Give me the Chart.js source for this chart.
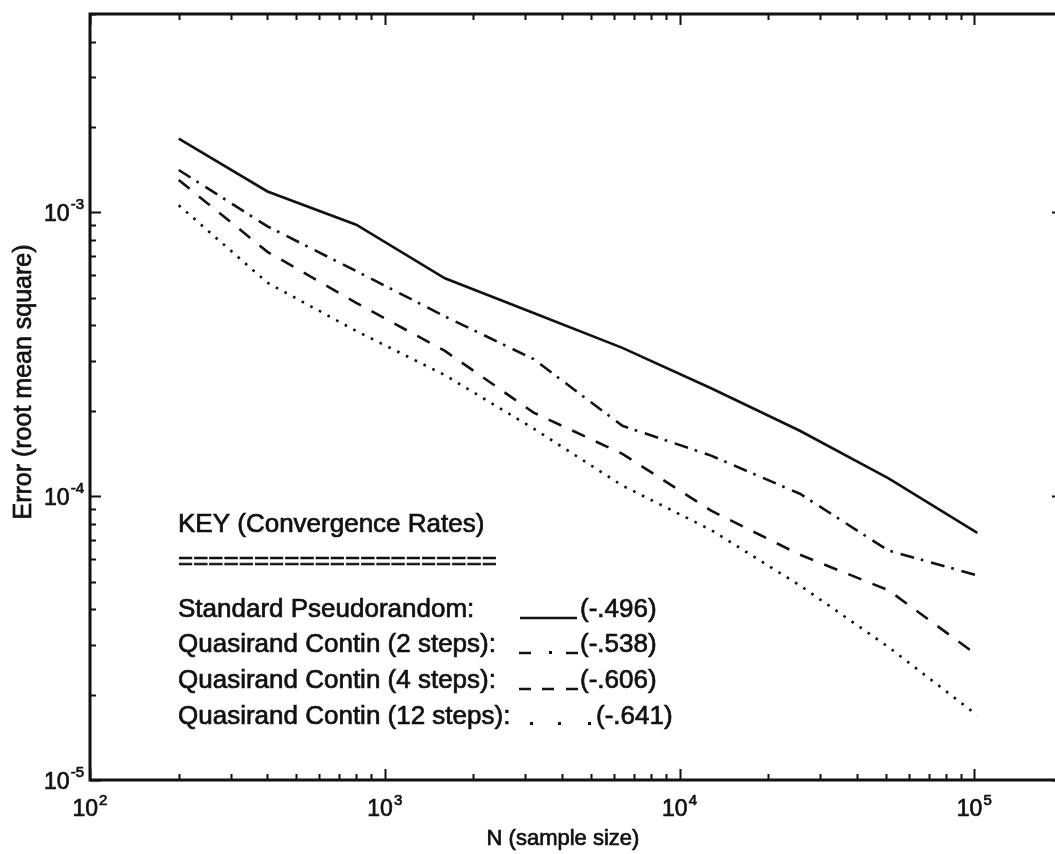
<!DOCTYPE html>
<html>
<head>
<meta charset="utf-8">
<script src="https://cdn.jsdelivr.net/npm/chart.js@4"></script>
<style>
  html, body { margin: 0; padding: 0; background: #fff; overflow: hidden; }
  #wrap { width: 1080px; height: 854px; }
</style>
</head>
<body>
<div id="wrap"><canvas id="errChart" width="1080" height="854"></canvas></div>
<script>
// sample sizes (doubling) and rms error for each method
const sampleSizes = [200, 400, 800, 1600, 3200, 6400, 12800, 25600, 51200, 102400];
const pseudorandom = [1.82e-3, 1.185e-3, 9.05e-4, 5.86e-4, 4.42e-4, 3.33e-4, 2.40e-4, 1.70e-4, 1.156e-4, 7.43e-5];
const contin2 = [1.41e-3, 8.93e-4, 6.21e-4, 4.30e-4, 3.04e-4, 1.77e-4, 1.39e-4, 1.02e-4, 6.43e-5, 5.26e-5];
const contin4 = [1.30e-3, 7.26e-4, 4.80e-4, 3.25e-4, 1.97e-4, 1.41e-4, 8.89e-5, 6.22e-5, 4.66e-5, 2.75e-5];
const contin12 = [1.06e-3, 5.65e-4, 3.82e-4, 2.67e-4, 1.73e-4, 1.09e-4, 7.6e-5, 4.85e-5, 2.94e-5, 1.69e-5];

// axis decades and exponent labels
const xDecades = [1e2, 1e3, 1e4, 1e5];
const xExps = ['2', '3', '4', '5'];
const yDecades = [1e-5, 1e-4, 1e-3];
const yExps = ['-5', '-4', '-3'];

// key text
const keyTitle = 'KEY (Convergence Rates)';
const keyLabels = ['Standard Pseudorandom:', 'Quasirand Contin (2 steps):', 'Quasirand Contin (4 steps):', 'Quasirand Contin (12 steps):'];
const keyRates = ['(-.496)', '(-.538)', '(-.606)', '(-.641)'];

const W = 1080, H = 854;
const FONT = '"Liberation Sans", Arial, Helvetica, sans-serif';

function pts(ys) {
  return sampleSizes.map((x, i) => ({ x: x, y: ys[i] }));
}

// text is stroked lightly so it reads as heavy as the scanned original
function txt(ctx, s, x, y, size, align) {
  ctx.font = size + 'px ' + FONT;
  ctx.textAlign = align || 'left';
  ctx.textBaseline = 'alphabetic';
  ctx.lineWidth = 0.7;
  ctx.fillText(s, x, y);
  ctx.strokeText(s, x, y);
}

const framePlugin = {
  id: 'frame',
  afterDraw(chart) {
    const ctx = chart.ctx;
    const a = chart.chartArea;
    const xs = chart.scales.x, ys = chart.scales.y;
    ctx.save();
    ctx.fillStyle = '#111';
    ctx.strokeStyle = '#111';

    // box
    ctx.lineWidth = 3;
    ctx.strokeRect(a.left, a.top, a.right - a.left, a.bottom - a.top);

    // ticks, pointing inward on all four sides
    ctx.lineWidth = 2;
    ctx.beginPath();
    for (let k = 2; k <= 5; k++) {
      for (let m = 1; m <= 9; m++) {
        const v = m * Math.pow(10, k);
        if (v > xs.max) break;
        const px = Math.round(xs.getPixelForValue(v)) + 0.5;
        const len = m === 1 ? 11 : 6;
        ctx.moveTo(px, a.bottom); ctx.lineTo(px, a.bottom - len);
        ctx.moveTo(px, a.top); ctx.lineTo(px, a.top + len);
      }
    }
    for (let k = -5; k <= -3; k++) {
      for (let m = 1; m <= 9; m++) {
        const v = m * Math.pow(10, k);
        if (v > ys.max * 1.0001) break;
        const py = Math.round(ys.getPixelForValue(v)) + 0.5;
        const len = m === 1 ? 11 : 6;
        ctx.moveTo(a.left, py); ctx.lineTo(a.left + len, py);
        ctx.moveTo(a.right, py); ctx.lineTo(a.right - len, py);
      }
    }
    ctx.stroke();

    // x tick labels
    xDecades.forEach((v, i) => {
      const px = xs.getPixelForValue(v);
      ctx.font = '23px ' + FONT;
      const w1 = ctx.measureText('10').width;
      ctx.font = '15px ' + FONT;
      const w2 = ctx.measureText(xExps[i]).width;
      const start = px - (w1 + 1 + w2) / 2;
      txt(ctx, '10', start, 816, 23);
      txt(ctx, xExps[i], start + w1 + 1, 805, 15);
    });

    // y tick labels
    yDecades.forEach((v, i) => {
      const py = ys.getPixelForValue(v);
      ctx.font = '15px ' + FONT;
      const w2 = ctx.measureText(yExps[i]).width;
      txt(ctx, yExps[i], 84 - w2, py - 3, 15);
      txt(ctx, '10', 84 - w2 - 1, py + 9, 23, 'right');
    });

    // axis titles
    txt(ctx, 'N (sample size)', 563, 845, 22, 'center');
    ctx.save();
    ctx.translate(31, 382);
    ctx.rotate(-Math.PI / 2);
    txt(ctx, 'Error (root mean square)', 0, 0, 25, 'center');
    ctx.restore();

    // key
    txt(ctx, keyTitle, 178, 532, 26);
    txt(ctx, '='.repeat(21), 178, 569, 26);
    const rows = [617, 652, 688, 724];
    keyLabels.forEach((s, i) => txt(ctx, s, 178, rows[i], 26));
    ctx.lineWidth = 2.5;
    ctx.beginPath();
    let b = rows[0] + 1;
    ctx.moveTo(520, b); ctx.lineTo(577, b);
    b = rows[1] + 1;
    ctx.moveTo(519, b); ctx.lineTo(531, b);
    ctx.moveTo(566, b); ctx.lineTo(578, b);
    b = rows[2] + 1;
    ctx.moveTo(519, b); ctx.lineTo(531, b);
    ctx.moveTo(542, b); ctx.lineTo(554, b);
    ctx.moveTo(566, b); ctx.lineTo(578, b);
    ctx.stroke();
    ctx.fillRect(549, rows[1] - 1, 3, 3);
    [530, 558, 588].forEach(x => ctx.fillRect(x, rows[3] - 2, 3, 3));
    keyRates.forEach((s, i) => txt(ctx, s, i === 3 ? 596 : 580, rows[i], 26));
    ctx.restore();
  }
};

const lineStyle = {
  borderColor: '#111',
  borderWidth: 2.6,
  pointRadius: 0,
  tension: 0,
  fill: false,
  borderCapStyle: 'butt'
};

const ctx = document.getElementById('errChart').getContext('2d');
const errChart = new Chart(ctx, {
  type: 'line',
  data: {
    datasets: [
      Object.assign({ label: 'Standard Pseudorandom', data: pts(pseudorandom), borderDash: [] }, lineStyle),
      Object.assign({ label: 'Quasirand Contin (2 steps)', data: pts(contin2), borderDash: [14, 7, 2.6, 8] }, lineStyle),
      Object.assign({ label: 'Quasirand Contin (4 steps)', data: pts(contin4), borderDash: [14, 12] }, lineStyle),
      Object.assign({ label: 'Quasirand Contin (12 steps)', data: pts(contin12), borderDash: [2.6, 7.2] }, lineStyle)
    ]
  },
  options: {
    responsive: false,
    animation: false,
    layout: { padding: { left: 90, top: 14, right: W - 1063, bottom: H - 780 } },
    scales: {
      x: { type: 'logarithmic', min: 100, max: 2e5, display: false },
      y: { type: 'logarithmic', min: 1e-5, max: 5e-3, display: false }
    },
    plugins: { legend: { display: false }, tooltip: { enabled: false } }
  },
  plugins: [framePlugin]
});
</script>
</body>
</html>
